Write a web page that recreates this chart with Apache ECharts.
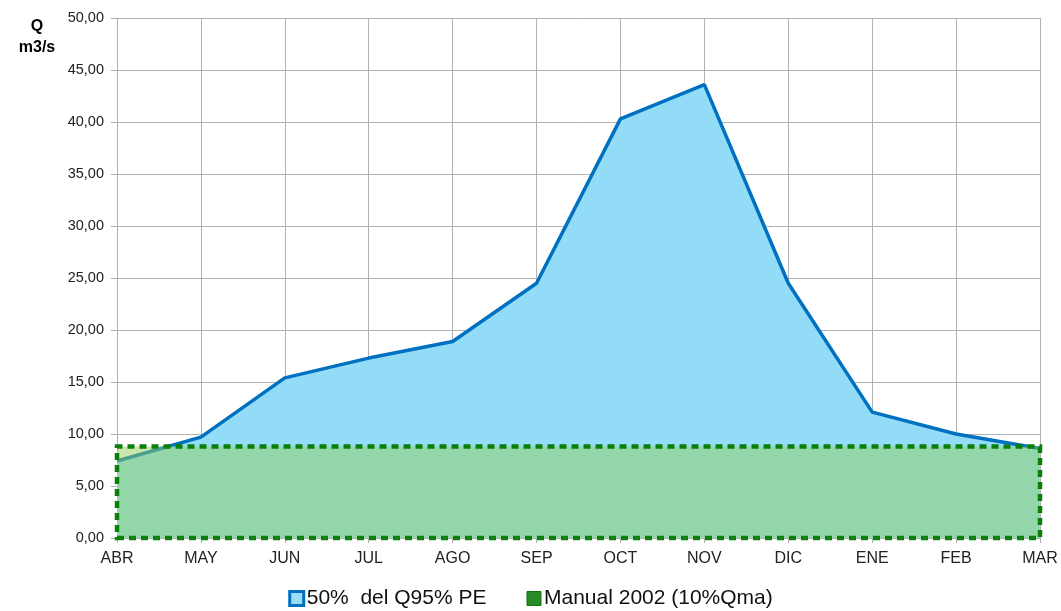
<!DOCTYPE html>
<html>
<head>
<meta charset="utf-8">
<script src="https://cdn.jsdelivr.net/npm/echarts@6/dist/echarts.min.js"></script>
<style>
  html, body { margin: 0; padding: 0; background: #fff; }
  #chart { width: 1061px; height: 611px; }
</style>
</head>
<body>
<div id="chart"></div>
<script>
var months = ['ABR', 'MAY', 'JUN', 'JUL', 'AGO', 'SEP', 'OCT', 'NOV', 'DIC', 'ENE', 'FEB', 'MAR'];
// 50% del Q95% PE
var q95 = [7.4, 9.7, 15.4, 17.3, 18.9, 24.5, 40.3, 43.6, 24.5, 12.1, 10.0, 8.6];
// Manual 2002 (10%Qma)
var manualQ = 8.8;
var manual = months.map(function () { return manualQ; });

var myChart = echarts.init(document.getElementById('chart'));
var font = 'Liberation Sans, Arial, sans-serif';

var option = {
  animation: false,
  grid: { left: 117, right: 21, top: 18, bottom: 73 },
  graphic: [{
    type: 'text',
    x: 37, y: 16,
    style: {
      text: 'Q\nm3/s',
      font: 'bold 16px ' + font,
      fill: '#000',
      align: 'center',
      lineHeight: 21
    }
  }],
  legend: {
    bottom: -3,
    left: 'center',
    itemGap: 40,
    itemWidth: 14,
    itemHeight: 14,
    textStyle: { fontFamily: font, fontSize: 21, color: '#111', padding: [0, 0, 0, -2] },
    data: [
      { name: '50%  del Q95% PE', icon: 'rect',
        itemStyle: { color: '#9bdcf7', borderColor: '#0070c0', borderWidth: 3 } },
      { name: 'Manual 2002 (10%Qma)', icon: 'rect',
        itemStyle: { color: '#2a8a2a', borderColor: '#0a7a0a', borderWidth: 1 } }
    ]
  },
  xAxis: {
    type: 'category',
    data: months,
    boundaryGap: false,
    axisLine: { lineStyle: { color: '#b0b0b0' } },
    axisTick: { show: true, length: 5, lineStyle: { color: '#b0b0b0' } },
    axisLabel: { color: '#222', fontFamily: font, fontSize: 16, margin: 13 },
    splitLine: { show: true, lineStyle: { color: '#b3b3b3', width: 1 } }
  },
  yAxis: {
    type: 'value',
    min: 0, max: 50, interval: 5,
    axisLine: { show: true, lineStyle: { color: '#b0b0b0' } },
    axisTick: { show: true, length: 6, lineStyle: { color: '#b0b0b0' } },
    axisLabel: {
      color: '#222', fontFamily: font, fontSize: 14.5, margin: 13,
      formatter: function (v) { return v.toFixed(2).replace('.', ','); }
    },
    splitLine: { lineStyle: { color: '#b3b3b3', width: 1 } }
  },
  series: [
    {
      name: '50%  del Q95% PE',
      type: 'line',
      data: q95,
      symbol: 'none',
      z: 2,
      lineStyle: { color: '#0070c0', width: 3.5 },
      itemStyle: { color: '#0070c0' },
      areaStyle: { color: '#93dcf7', opacity: 1 }
    },
    {
      name: 'Manual 2002 (10%Qma)',
      type: 'line',
      data: manual,
      symbol: 'none',
      z: 3,
      lineStyle: { opacity: 0, width: 0 },
      itemStyle: { color: '#2a8a2a' },
      markArea: {
        silent: true,
        z: 10,
        itemStyle: {
          color: 'rgba(147,208,91,0.5)',
          borderColor: '#0a7f0a',
          borderWidth: 4.5,
          borderType: [7, 5]
        },
        data: [[
          { xAxis: months[0], yAxis: 0 },
          { xAxis: months[months.length - 1], yAxis: manualQ }
        ]]
      }
    }
  ]
};

myChart.setOption(option);
</script>
</body>
</html>
